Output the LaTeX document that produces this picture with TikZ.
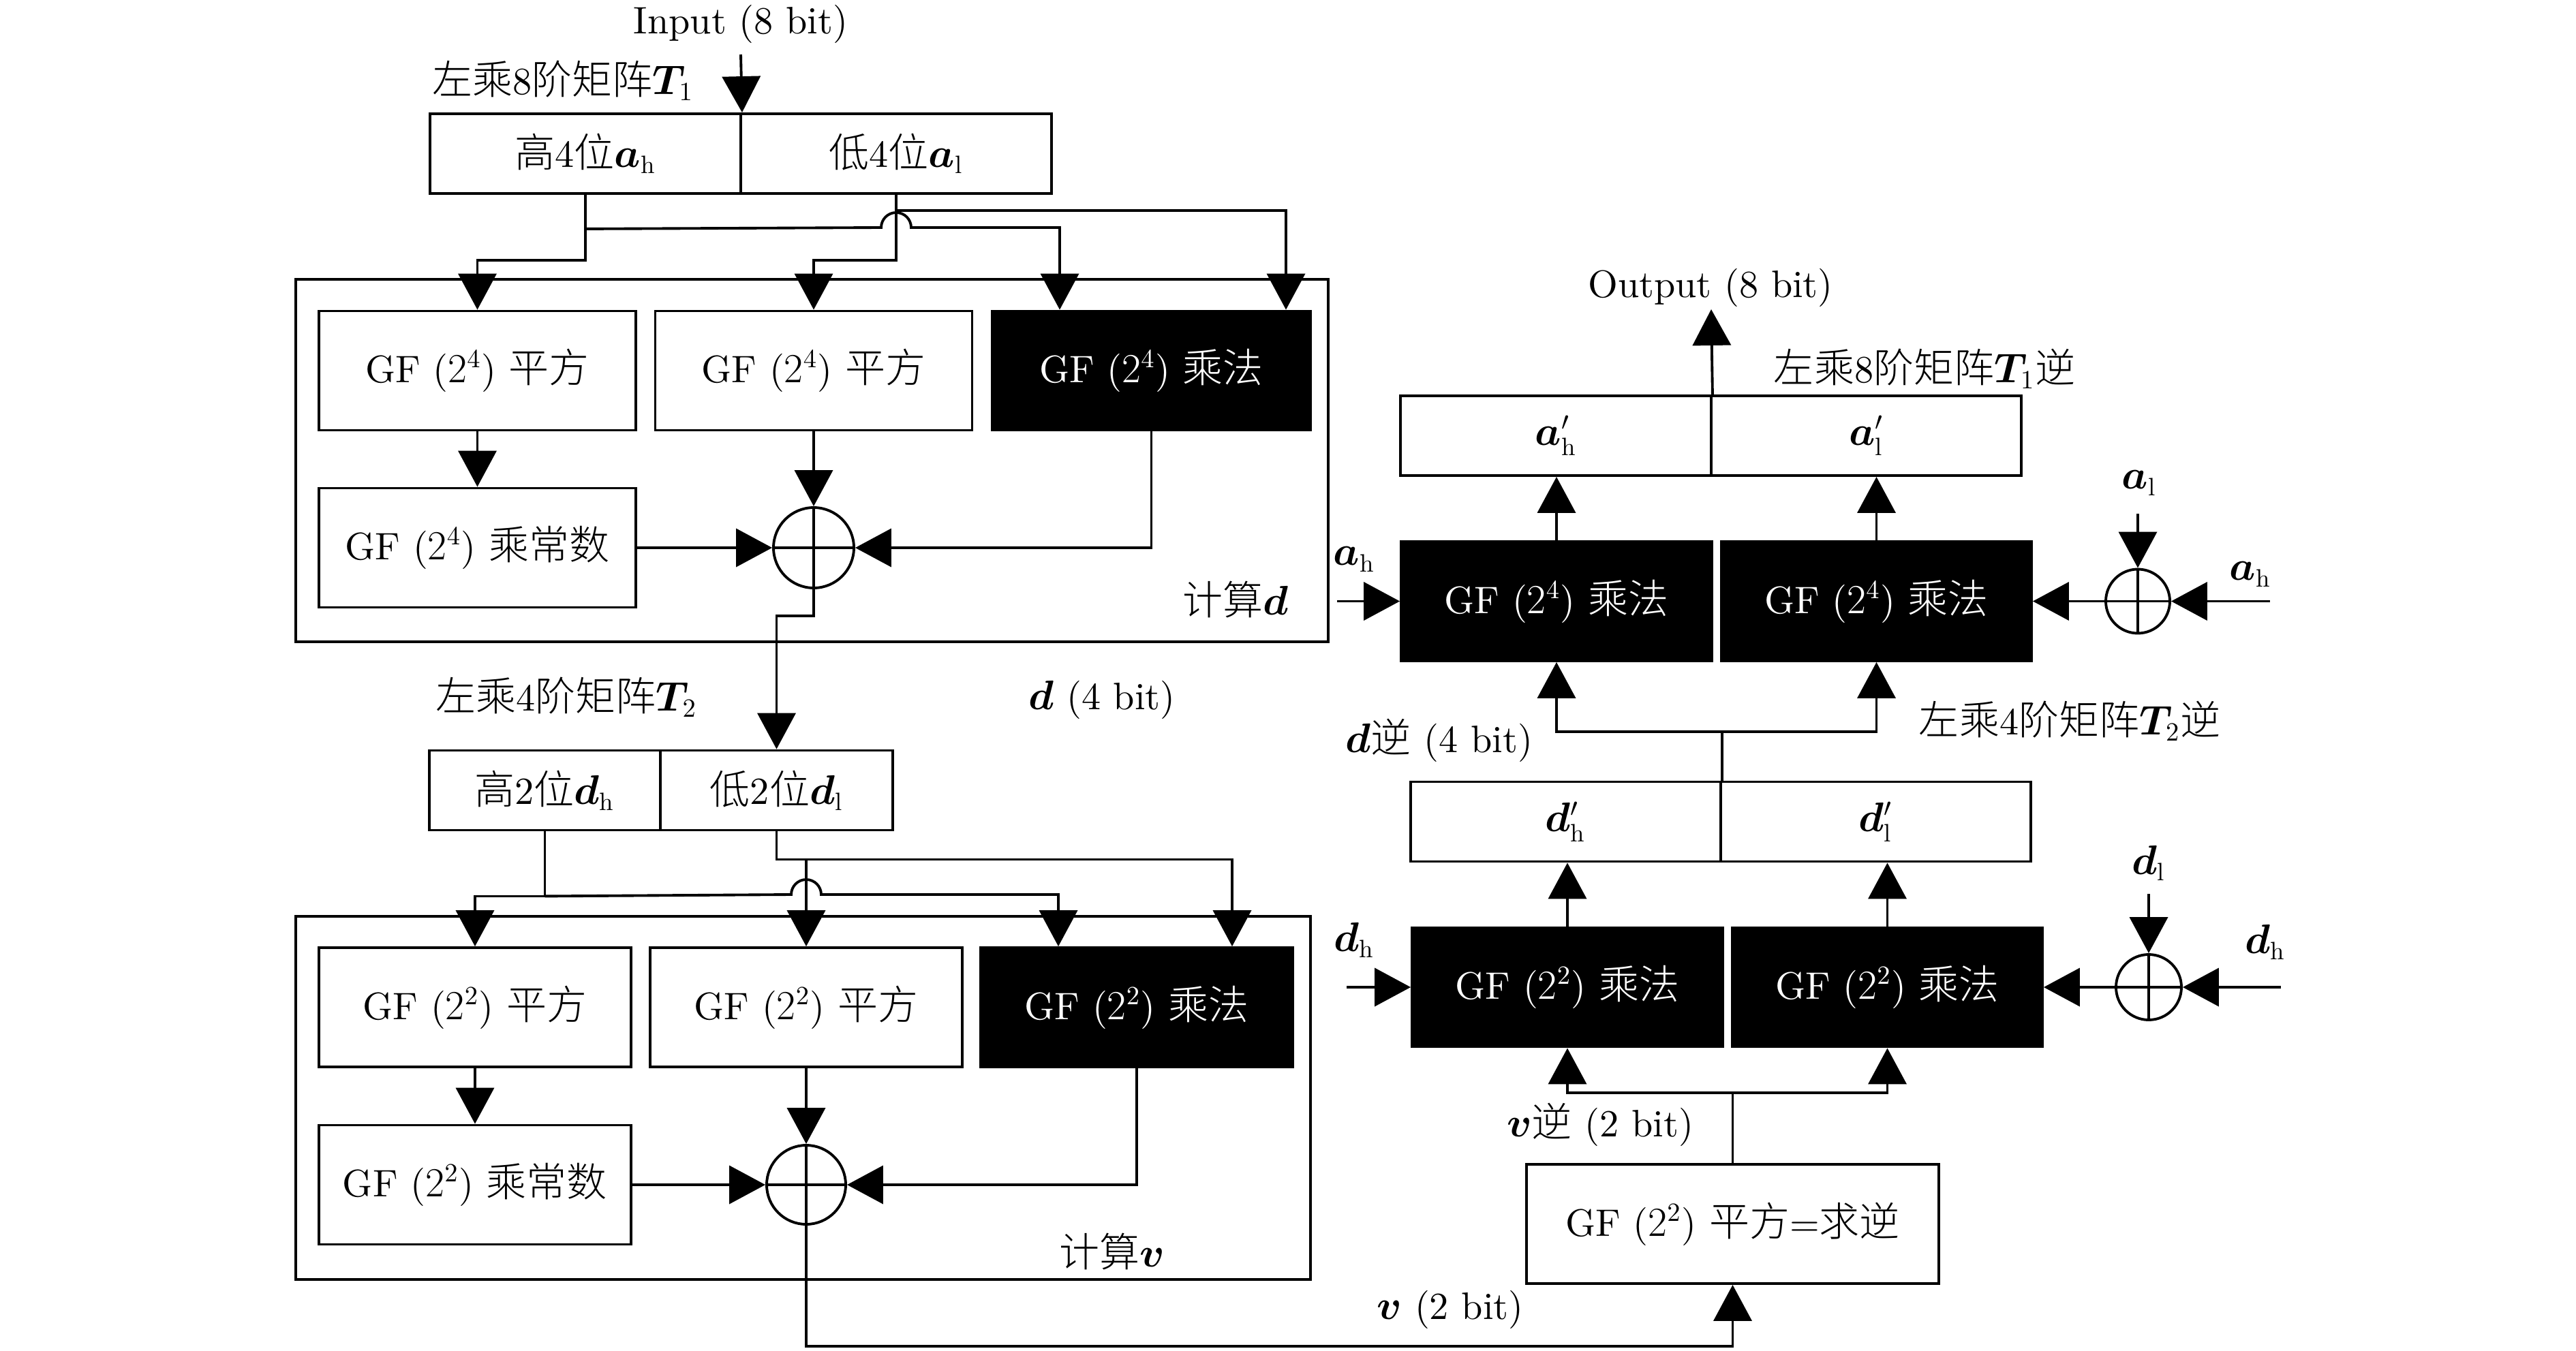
\documentclass[tikz,border=0pt]{standalone}
\usepackage{fontspec}
\usepackage{bm}
\setmainfont{lmroman10-regular.otf}
\newfontfamily\zhfont{Noto Sans CJK SC}[Scale=1.05, UprightFont={* Light}]
\newcommand{\zh}[1]{{\zhfont #1}}
\DeclareMathSizes{16}{16}{10.5}{8}
\usetikzlibrary{arrows.meta,calc}

\tikzset{
  gfbox/.style={draw, line width=1.1pt, minimum width=#1, minimum height=1.75cm, inner sep=0pt},
  gfbox/.default=4.65cm,
  mulbox/.style={gfbox=#1, fill=black, text=white},
  mulbox/.default=4.56cm,
  half/.style={draw, line width=1.1pt, minimum width=#1, minimum height=1.17cm, inner sep=0pt},
  half/.default=4.56cm,
  xorc/.style={circle, draw, line width=1.1pt, minimum size=#1, inner sep=0pt,
    path picture={\draw[line width=1.1pt] (path picture bounding box.north) -- (path picture bounding box.south)
      (path picture bounding box.west) -- (path picture bounding box.east);}},
  xorc/.default=1.18cm,
  frame/.style={line width=1.1pt},
  wire/.style={line width=1.1pt},
  sig/.style={wire, -{Triangle[length=5.3mm,width=5.6mm]}},
}

\begin{document}
\begin{tikzpicture}[y=-1cm, font=\fontsize{16}{19}\selectfont]
    \useasboundingbox (0,0) rectangle (37.8,19.83);
    % compute d
    \node (inl) at (10.87,0.35) {Input (8 bit)};
    \coordinate (inS) at (10.87,0.80);
    \node (t1l) at (8.26,1.18) {\zh{左乘}8\zh{阶矩阵}$\bm{T}_1$};
    \node[half] (ah) at (8.59,2.255) {\zh{高}4\zh{位}$\bm{a}_\mathrm{h}$};
    \node[half] (al) at (13.15,2.255) {\zh{低}4\zh{位}$\bm{a}_\mathrm{l}$};
    \draw[frame] (4.34,4.10) rectangle (19.49,9.42);
    \node[gfbox] (sq1) at (7.005,5.44) {GF ($2^4$) \zh{平方}};
    \node[gfbox] (sq2) at (11.94,5.44) {GF ($2^4$) \zh{平方}};
    \node[mulbox=4.67cm] (mul) at (16.895,5.44) {GF ($2^4$) \zh{乘法}};
    \node[gfbox] (cst) at (7.005,8.04) {GF ($2^4$) \zh{乘常数}};
    \node[xorc] (x1) at (11.94,8.04) {};
    \node (cdl) at (18.13,8.80) {\zh{计算}$\bm{d}$};
    \node (t2l) at (8.31,10.23) {\zh{左乘}4\zh{阶矩阵}$\bm{T}_2$};
    \node (dbl) at (16.17,10.27) {$\bm{d}$ (4 bit)};

    \draw[sig] (inS) -- (ah.north east);
    \draw[sig] (ah.south) -- ++(0,0.96) -| (sq1.north);
    \draw[sig] ($(ah.south)+(0,0.50)$) -- (12.93,3.34) arc (180:0:0.22cm) -| ([xshift=-1.345cm]mul.north);
    \draw[sig] (al.south) -- ++(0,0.96) -| (sq2.north);
    \draw[sig] ($(al.south)+(0,0.23)$) -| ([xshift=1.975cm]mul.north);
    \draw[sig] (sq1.south) -- (cst.north);
    \draw[sig] (sq2.south) -- (x1.north);
    \draw[sig] (cst.east) -- (x1.west);
    \draw[sig] (mul.south) |- (x1.east);

    % compute v
    \node[half=3.39cm] (dh) at (7.995,11.60) {\zh{高}2\zh{位}$\bm{d}_\mathrm{h}$};
    \node[half=3.41cm] (dl) at (11.395,11.60) {\zh{低}2\zh{位}$\bm{d}_\mathrm{l}$};
    \draw[frame] (4.34,13.45) rectangle (19.23,18.78);
    \node[gfbox=4.58cm] (sq1b) at (6.97,14.785) {GF ($2^2$) \zh{平方}};
    \node[gfbox=4.58cm] (sq2b) at (11.83,14.785) {GF ($2^2$) \zh{平方}};
    \node[mulbox=4.58cm] (mulb) at (16.68,14.785) {GF ($2^2$) \zh{乘法}};
    \node[gfbox=4.58cm] (cstb) at (6.97,17.39) {GF ($2^2$) \zh{乘常数}};
    \node[xorc=1.16cm] (x2) at (11.83,17.39) {};
    \node (cvl) at (16.32,18.37) {\zh{计算}$\bm{v}$};

    \draw[sig] (x1.south) -- ++(0,0.39) -| (dl.north);
    \draw[sig] (dh.south) -- ++(0,0.95) -| (sq1b.north);
    \draw[sig] ($(dh.south)+(0,0.95)$) -- (11.61,13.13) arc (180:0:0.22cm) -| ([xshift=-1.15cm]mulb.north);
    \coordinate (dlj) at ($(dl.south)+(0,0.41)$);
    \draw[sig] (dl.south) -- (dlj) -| ([xshift=1.40cm]mulb.north);
    \draw[sig] (dlj -| sq2b.north) -- (sq2b.north);
    \draw[sig] (sq1b.south) -- (cstb.north);
    \draw[sig] (sq2b.south) -- (x2.north);
    \draw[sig] (cstb.east) -- (x2.west);
    \draw[sig] (mulb.south) |- (x2.east);

    % inverse side
    \node (outl) at (25.10,4.22) {Output (8 bit)};
    \coordinate (outS) at (25.11,4.54);
    \node (t1il) at (28.24,5.41) {\zh{左乘}8\zh{阶矩阵}$\bm{T}_1$\zh{逆}};
    \node[half] (aph) at (22.83,6.395) {$\bm{a}'_\mathrm{h}$};
    \node[half=4.55cm] (apl) at (27.385,6.395) {$\bm{a}'_\mathrm{l}$};
    \node[mulbox] (mA) at (22.84,8.825) {GF ($2^4$) \zh{乘法}};
    \node[mulbox=4.55cm] (mB) at (27.535,8.825) {GF ($2^4$) \zh{乘法}};
    \node (ahL) at (19.87,8.21) {$\bm{a}_\mathrm{h}$};
    \coordinate (ahS) at (19.62,8.825);
    \node[xorc=0.94cm] (x3) at (31.37,8.825) {};
    \node (alT) at (31.39,7.09) {$\bm{a}_\mathrm{l}$};
    \coordinate (alS) at (31.37,7.54);
    \node (ahR) at (33.02,8.43) {$\bm{a}_\mathrm{h}$};
    \coordinate (ahRS) at (33.31,8.825);
    \node (t2il) at (30.37,10.58) {\zh{左乘}4\zh{阶矩阵}$\bm{T}_2$\zh{逆}};
    \node (dil) at (21.12,10.87) {$\bm{d}$\zh{逆} (4 bit)};
    \node[half=4.55cm] (dph) at (22.975,12.06) {$\bm{d}'_\mathrm{h}$};
    \node[half=4.55cm] (dpl) at (27.525,12.06) {$\bm{d}'_\mathrm{l}$};
    \node[mulbox] (mC) at (23.00,14.49) {GF ($2^2$) \zh{乘法}};
    \node[mulbox=4.55cm] (mD) at (27.695,14.49) {GF ($2^2$) \zh{乘法}};
    \node (dhL) at (19.87,13.80) {$\bm{d}_\mathrm{h}$};
    \coordinate (dhS) at (19.76,14.49);
    \node[xorc=0.96cm] (x4) at (31.53,14.49) {};
    \node (dlT) at (31.53,12.67) {$\bm{d}_\mathrm{l}$};
    \coordinate (dlS) at (31.53,13.12);
    \node (dhR) at (33.24,13.83) {$\bm{d}_\mathrm{h}$};
    \coordinate (dhRS) at (33.47,14.49);
    \node (vil) at (23.48,16.51) {$\bm{v}$\zh{逆} (2 bit)};
    \node[gfbox=6.05cm] (inv) at (25.425,17.965) {GF ($2^2$) \zh{平方}=\zh{求逆}};
    \node (vl) at (21.28,19.22) {$\bm{v}$ (2 bit)};

    \draw[sig] (aph.north east) -- (outS);
    \draw[sig] (mA.north) -- (mA.north |- aph.south);
    \draw[sig] (mB.north) -- (mB.north |- apl.south);
    \draw[sig] (ahS) -- (mA.west);
    \draw[sig] (alS) -- (x3.north);
    \draw[sig] (ahRS) -- (x3.east);
    \draw[sig] (x3.west) -- (mB.east);
    \draw[sig] (dph.north east) -- ++(0,-0.72) -| (mA.south);
    \draw[sig] (dph.north east) -- ++(0,-0.72) -| (mB.south);
    \draw[sig] (mC.north) -- (mC.north |- dph.south);
    \draw[sig] (mD.north) -- (mD.north |- dpl.south);
    \draw[sig] (dhS) -- (mC.west);
    \draw[sig] (dlS) -- (x4.north);
    \draw[sig] (dhRS) -- (x4.east);
    \draw[sig] (x4.west) -- (mD.east);
    \draw[sig] (inv.north) -- ++(0,-1.03) -| (mC.south);
    \draw[sig] (inv.north) -- ++(0,-1.03) -| (mD.south);
    \draw[sig] (x2.south) -- ++(0,1.77) -| (inv.south);
\end{tikzpicture}
\end{document}
